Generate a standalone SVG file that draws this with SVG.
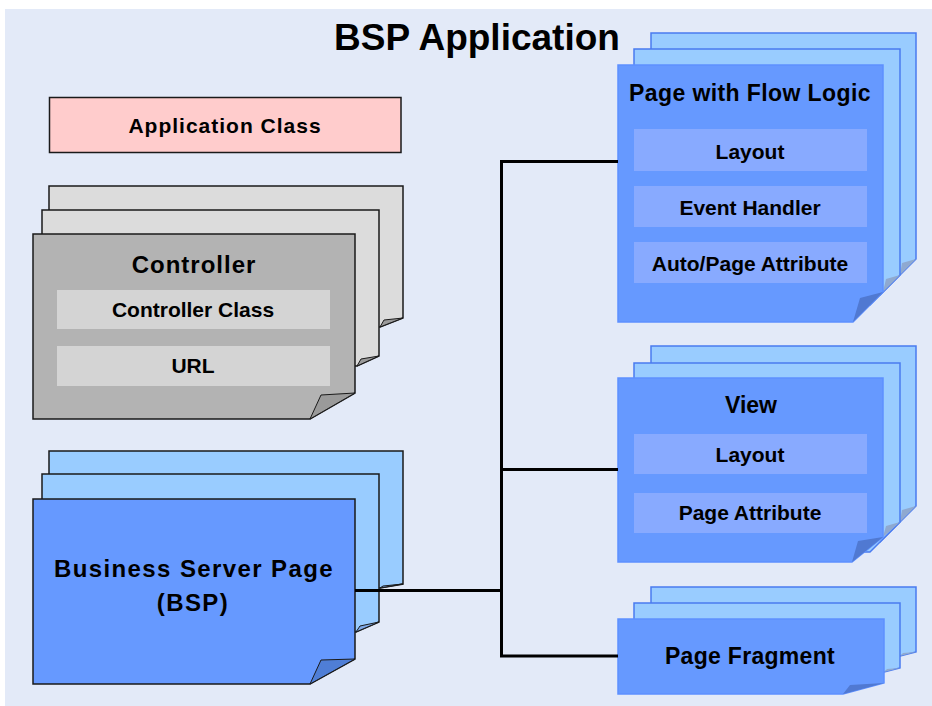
<svg xmlns="http://www.w3.org/2000/svg" width="932" height="706" viewBox="0 0 932 706">
<style>
text{font-family:"Liberation Sans",Arial,sans-serif;font-weight:bold;fill:#000;text-anchor:middle}
.gb{fill:#DCDCDC;stroke:#1a1a1a;stroke-width:1.5}
.gf{fill:#B3B3B3;stroke:#1a1a1a;stroke-width:1.5}
.gi{fill:#D4D4D4}
.gfl{fill:#9A9A9A;stroke:#1a1a1a;stroke-width:1}
.bb{fill:#99CCFF;stroke:#1a1a1a;stroke-width:1.5}
.bf{fill:#6699FF;stroke:#1a1a1a;stroke-width:1.5}
.bfl{fill:#4F7ED6;stroke:#1a1a1a;stroke-width:1}
.rb{fill:#99CCFF;stroke:#4A7BF0;stroke-width:1.5}
.rf{fill:#6699FF;stroke:#5E90FF;stroke-width:1.5}
.ri{fill:#88AAFF}
.rfl{fill:#5079D2}
.rfl2{fill:#8FA9D0}
.conn{fill:none;stroke:#000;stroke-width:3}
.t1{font-size:23px}
.t2{font-size:21px}
</style>
<rect x="5" y="9" width="927" height="697" fill="#E3EAF8"/>
<text x="477" y="50" style="font-size:37px">BSP Application</text>

<g id="app-class">
<rect x="49.5" y="97.5" width="351.5" height="55" fill="#FFCCCC" stroke="#1a1a1a" stroke-width="1.5"/>
<text x="225" y="133" style="font-size:21px;letter-spacing:1px">Application Class</text>
</g>

<g id="controller">
<polygon class="gb" points="49,186 403,186 403,318 380,327 49,327"/>
<polygon class="gfl" points="380,327 384,320 403,318"/>
<polygon class="gb" points="42,210 379,210 379,356 357,366 42,366"/>
<polygon class="gfl" points="357,366 361,359 379,356"/>
<polygon class="gf" points="33,234 355,234 355,393 310,419 33,419"/>
<polygon class="gfl" points="310,419 321,395 355,393"/>
<text x="194" y="273" style="font-size:24px;letter-spacing:1px">Controller</text>
<rect class="gi" x="57" y="290" width="273" height="39"/>
<text class="t2" x="193" y="317">Controller Class</text>
<rect class="gi" x="57" y="346" width="273" height="40"/>
<text class="t2" x="193" y="373">URL</text>
</g>

<g id="bsp">
<polygon class="bb" points="49,451 403,451 403,584 380,588 49,588"/>
<polygon class="bfl" points="380,588 383,586 403,584" style="fill:#7FA8E6"/>
<polygon class="bb" points="42,474 379,474 379,622 356,632 42,632"/>
<polygon class="bfl" points="356,632 360,626 379,622" style="fill:#7FA8E6"/>
<polygon class="bf" points="33,499 355,499 355,659 310,684 33,684"/>
<polygon class="bfl" points="310,684 321,660 355,659"/>
<text x="194" y="577" style="font-size:24px;letter-spacing:1.4px">Business Server Page</text>
<text x="193" y="611" style="font-size:24px;letter-spacing:1.4px">(BSP)</text>
</g>

<g id="page-flow">
<polygon class="rb" points="651,33 916,33 916,259 880,295 651,295"/>
<polygon class="rfl2" points="900,275 902,263 916,259"/>
<polygon class="rb" points="634,49 900,49 900,275 870,305 634,305"/>
<polygon class="rfl2" points="883,292 886,279 900,275"/>
<polygon class="rf" points="618,65 883,65 883,292 853,322 618,322"/>
<polygon class="rfl" points="853,322 860,298 883,292"/>
<text class="t1" x="750" y="101" style="letter-spacing:0.4px">Page with Flow Logic</text>
<rect class="ri" x="634" y="129" width="233" height="42"/>
<text class="t2" x="750" y="159">Layout</text>
<rect class="ri" x="634" y="186" width="233" height="41"/>
<text class="t2" x="750" y="215">Event Handler</text>
<rect class="ri" x="634" y="242" width="233" height="41"/>
<text class="t2" x="750" y="271">Auto/Page Attribute</text>
</g>

<g id="view">
<polygon class="rb" points="651,346 916,346 916,506 880,542 651,542"/>
<polygon class="rfl2" points="900,522 902,510 916,506"/>
<polygon class="rb" points="634,363 900,363 900,522 870,552 634,552"/>
<polygon class="rfl2" points="883,537 886,526 900,522"/>
<polygon class="rf" points="618,378 883,378 883,537 852,562 618,562"/>
<polygon class="rfl" points="852,562 858,541 883,537"/>
<text class="t1" x="751" y="413">View</text>
<rect class="ri" x="634" y="434" width="233" height="40"/>
<text class="t2" x="750" y="462">Layout</text>
<rect class="ri" x="634" y="493" width="233" height="40"/>
<text class="t2" x="750" y="520">Page Attribute</text>
</g>

<g id="page-fragment">
<polygon class="rb" points="651,587 916,587 916,652 900,656 651,656"/>
<polygon class="rfl2" points="900,656 903,653 916,652"/>
<polygon class="rb" points="634,603 900,603 900,668 884,672 634,672"/>
<polygon class="rfl2" points="884,672 887,669 900,668"/>
<polygon class="rf" points="618,619 884,619 884,683 843,694 618,694"/>
<polygon class="rfl" points="843,694 850,685 884,683"/>
<text class="t1" x="750" y="664" style="letter-spacing:0.3px">Page Fragment</text>
</g>

<g id="connectors">
<polyline class="conn" points="618,161.5 501.5,161.5 501.5,656 618,656"/>
<line class="conn" x1="501.5" y1="469.5" x2="618" y2="469.5"/>
<line class="conn" x1="355" y1="590.5" x2="501.5" y2="590.5"/>
</g>
</svg>
